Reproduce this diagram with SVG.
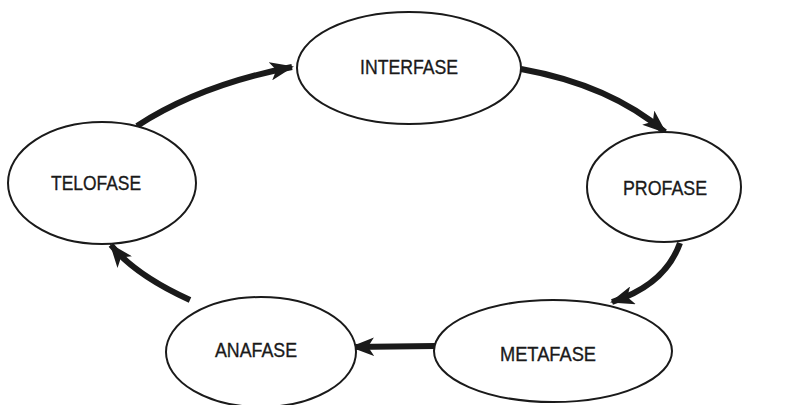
<svg xmlns="http://www.w3.org/2000/svg" width="795" height="405" viewBox="0 0 795 405">
<style>
.node ellipse{fill:#fff;stroke:#1a1a1a;stroke-width:2}
.node text{font-family:"Liberation Sans",Arial,sans-serif;font-size:21px;fill:#1a1a1a;stroke:#1a1a1a;stroke-width:0.35;text-anchor:middle}
.edge{fill:none;stroke:#1a1a1a;stroke-width:6;stroke-linecap:butt}
</style>
<defs>
<marker id="ah" viewBox="0 0 12 10" refX="11" refY="5" markerWidth="4" markerHeight="3.1" orient="auto" markerUnits="strokeWidth" preserveAspectRatio="none">
<path d="M0,0 L12,5 L0,10 L3,5 Z" fill="#1a1a1a"/>
</marker>
</defs>
<rect width="795" height="405" fill="#fff"/>
<g id="connectors">
<path class="edge" d="M137,126 Q200,85 292,67" marker-end="url(#ah)"/>
<path class="edge" d="M521,69 Q610,85 665,132" marker-end="url(#ah)"/>
<path class="edge" d="M680,243 Q665,285 612,302" marker-end="url(#ah)"/>
<path class="edge" d="M435,346 L352,347" marker-end="url(#ah)"/>
<path class="edge" d="M190,300 Q135,275 111,245" marker-end="url(#ah)"/>
</g>
<g id="interfase" class="node"><ellipse cx="409" cy="68" rx="112" ry="56"/><text x="409" y="74" textLength="98" lengthAdjust="spacingAndGlyphs">INTERFASE</text></g>
<g id="profase" class="node"><ellipse cx="664" cy="187" rx="77" ry="55"/><text x="665" y="195" textLength="84" lengthAdjust="spacingAndGlyphs">PROFASE</text></g>
<g id="metafase" class="node"><ellipse cx="553" cy="351" rx="119" ry="51"/><text x="548" y="361" textLength="96" lengthAdjust="spacingAndGlyphs">METAFASE</text></g>
<g id="anafase" class="node"><ellipse cx="261" cy="352" rx="95" ry="55"/><text x="256" y="357" textLength="82" lengthAdjust="spacingAndGlyphs">ANAFASE</text></g>
<g id="telofase" class="node"><ellipse cx="102" cy="183" rx="94" ry="61"/><text x="96" y="190" textLength="90" lengthAdjust="spacingAndGlyphs">TELOFASE</text></g>
</svg>
